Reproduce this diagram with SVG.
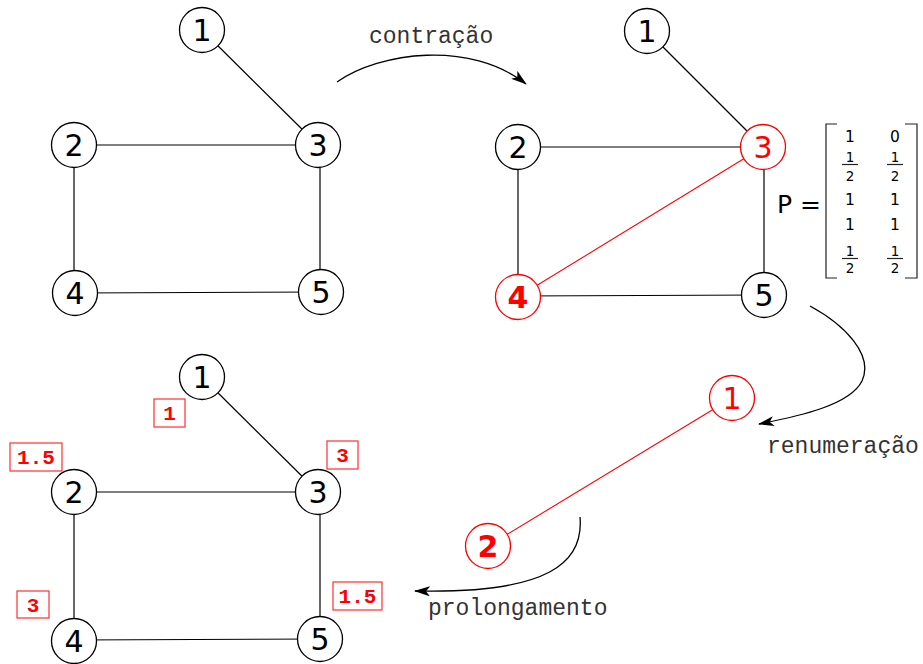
<svg xmlns="http://www.w3.org/2000/svg" width="923" height="664" viewBox="0 0 923 664">
  <style>
    .edge { stroke: #000; stroke-width: 1.2; fill: none; }
    .edge-red { stroke: #ff0000; stroke-width: 1.1; fill: none; }
    .node circle { fill: #fff; stroke: #000; stroke-width: 1.3; }
    .node.red circle { stroke: #ff0000; }
    .node text { font-family: "DejaVu Sans", sans-serif; font-size: 30px; text-anchor: middle; fill: #000; }
    .node.red text { fill: #ff0000; }
    .node.bold text { font-weight: bold; }
    .arrow { stroke: #000; stroke-width: 1.3; fill: none; marker-end: url(#ah); }
    .op { font-family: "Liberation Mono", "Courier New", monospace; font-size: 23px; fill: #333; }
    .tag rect { fill: none; stroke: #ff3030; stroke-width: 1.2; }
    .tag text { font-family: "Liberation Mono", monospace; font-weight: bold; font-size: 21px; fill: #ff0000; text-anchor: middle; }
    .mat text { font-family: "DejaVu Sans", sans-serif; font-size: 15.5px; text-anchor: middle; fill: #000; }
    .mat text.fr { font-size: 13.5px; }
    .mat line, .mat path { stroke: #222; stroke-width: 1.2; fill: none; }
  </style>
  <defs>
    <marker id="ah" viewBox="0 0 16 10" refX="15" refY="5" markerWidth="16" markerHeight="10" markerUnits="userSpaceOnUse" orient="auto">
      <path d="M0,0 L16,5 L0,10 L4,5 z" fill="#000"/>
    </marker>
  </defs>

  <!-- connectors -->
  <g id="connectors">
    <!-- original graph -->
    <line class="edge" x1="202" y1="30" x2="318" y2="145"/>
    <line class="edge" x1="74" y1="145" x2="318" y2="145"/>
    <line class="edge" x1="74" y1="145" x2="74" y2="293"/>
    <line class="edge" x1="320" y1="145" x2="320" y2="292"/>
    <line class="edge" x1="75" y1="293" x2="321" y2="292"/>
    <!-- contracted graph -->
    <line class="edge" x1="647" y1="31" x2="763" y2="147"/>
    <line class="edge" x1="518" y1="147" x2="763" y2="147"/>
    <line class="edge" x1="518" y1="147" x2="518" y2="297"/>
    <line class="edge" x1="764" y1="147" x2="764" y2="295"/>
    <line class="edge" x1="518" y1="296" x2="764" y2="295"/>
    <line class="edge-red" x1="518" y1="297" x2="763" y2="147"/>
    <!-- renumbered graph -->
    <line class="edge-red" x1="488" y1="546" x2="732" y2="398"/>
    <!-- prolonged graph -->
    <line class="edge" x1="202" y1="377" x2="318" y2="492"/>
    <line class="edge" x1="74" y1="492" x2="318" y2="492"/>
    <line class="edge" x1="74" y1="492" x2="74" y2="641"/>
    <line class="edge" x1="320" y1="492" x2="320" y2="639"/>
    <line class="edge" x1="74" y1="640" x2="320" y2="639"/>
    <!-- operation arrows -->
    <path class="arrow" d="M337,82 C380,52 470,40 526,84"/>
    <path class="arrow" d="M810,306 C845,325 874,355 862,381 C850,405 800,416 759,424"/>
    <path class="arrow" d="M580,517 C584,562 550,594 415,591"/>
  </g>

  <!-- original graph nodes -->
  <g id="g1-n1" class="node"><circle cx="202" cy="30" r="22.5"/><text x="202" y="41">1</text></g>
  <g id="g1-n2" class="node"><circle cx="74" cy="145" r="22.5"/><text x="74" y="156">2</text></g>
  <g id="g1-n3" class="node"><circle cx="318" cy="145" r="22.5"/><text x="318" y="156">3</text></g>
  <g id="g1-n4" class="node"><circle cx="75" cy="293" r="22.5"/><text x="75" y="304">4</text></g>
  <g id="g1-n5" class="node"><circle cx="321" cy="292" r="22.5"/><text x="321" y="303">5</text></g>

  <!-- contracted graph nodes -->
  <g id="g2-n1" class="node"><circle cx="647" cy="31" r="22.5"/><text x="647" y="42">1</text></g>
  <g id="g2-n2" class="node"><circle cx="518" cy="147" r="22.5"/><text x="518" y="158">2</text></g>
  <g id="g2-n3" class="node red"><circle cx="763" cy="147" r="22.5"/><text x="763" y="158">3</text></g>
  <g id="g2-n4" class="node red bold"><circle cx="518" cy="297" r="22.5"/><text x="518" y="308">4</text></g>
  <g id="g2-n5" class="node"><circle cx="764" cy="295" r="22.5"/><text x="764" y="306">5</text></g>

  <!-- renumbered graph nodes -->
  <g id="g3-n1" class="node red"><circle cx="732" cy="398" r="22.5"/><text x="732" y="409">1</text></g>
  <g id="g3-n2" class="node red bold"><circle cx="488" cy="546" r="22.5"/><text x="488" y="557">2</text></g>

  <!-- prolonged graph nodes -->
  <g id="g4-n1" class="node"><circle cx="202" cy="377" r="22.5"/><text x="202" y="388">1</text></g>
  <g id="g4-n2" class="node"><circle cx="74" cy="492" r="22.5"/><text x="74" y="503">2</text></g>
  <g id="g4-n3" class="node"><circle cx="318" cy="492" r="22.5"/><text x="318" y="503">3</text></g>
  <g id="g4-n4" class="node"><circle cx="74" cy="641" r="22.5"/><text x="74" y="652">4</text></g>
  <g id="g4-n5" class="node"><circle cx="320" cy="639" r="22.5"/><text x="320" y="650">5</text></g>

  <!-- prolonged values -->
  <g id="val-1" class="tag"><rect x="154" y="399" width="31" height="28"/><text x="169.5" y="420">1</text></g>
  <g id="val-2" class="tag"><rect x="10" y="443" width="52" height="28"/><text x="36" y="464">1.5</text></g>
  <g id="val-3" class="tag"><rect x="327" y="441" width="31" height="28"/><text x="342.5" y="462">3</text></g>
  <g id="val-4" class="tag"><rect x="17" y="591" width="32" height="27"/><text x="33" y="612">3</text></g>
  <g id="val-5" class="tag"><rect x="333" y="582" width="49" height="28"/><text x="357.5" y="603">1.5</text></g>

  <!-- operation labels -->
  <text class="op" x="369" y="43">contração</text>
  <text class="op" x="767" y="453">renumeração</text>
  <text class="op" x="428" y="615">prolongamento</text>

  <!-- prolongation matrix -->
  <g id="matrix" class="mat">
    <text x="777" y="213" style="font-size:25px;text-anchor:start">P =</text>
    <path d="M837,124 L826,124 L826,278 L837,278"/>
    <path d="M905,124 L917,124 L917,278 L905,278"/>
    <text x="850" y="142">1</text><text x="895" y="142">0</text>
    <text class="fr" x="850" y="161.5">1</text><line x1="842" y1="164.5" x2="858" y2="164.5"/><text class="fr" x="850" y="181">2</text>
    <text class="fr" x="895" y="161.5">1</text><line x1="887" y1="164.5" x2="903" y2="164.5"/><text class="fr" x="895" y="181">2</text>
    <text x="850" y="205">1</text><text x="895" y="205">1</text>
    <text x="850" y="230">1</text><text x="895" y="230">1</text>
    <text class="fr" x="850" y="255.5">1</text><line x1="842" y1="258.5" x2="858" y2="258.5"/><text class="fr" x="850" y="272.5">2</text>
    <text class="fr" x="895" y="255.5">1</text><line x1="887" y1="258.5" x2="903" y2="258.5"/><text class="fr" x="895" y="272.5">2</text>
  </g>
</svg>
